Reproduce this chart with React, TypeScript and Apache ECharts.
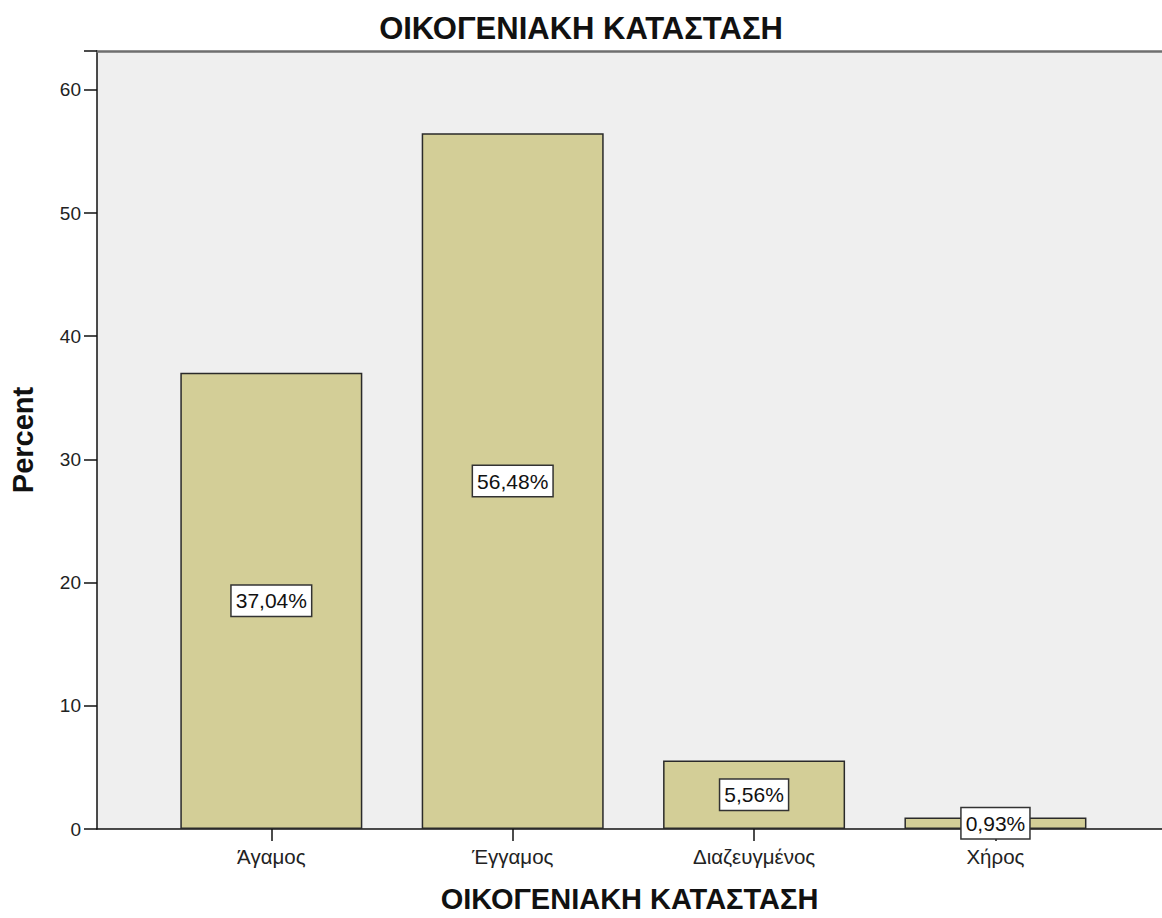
import React, { useEffect, useRef } from "react";
import * as echarts from "echarts";

const titleText = "ΟΙΚΟΓΕΝΙΑΚΗ ΚΑΤΑΣΤΑΣΗ";
const xAxisName = "ΟΙΚΟΓΕΝΙΑΚΗ ΚΑΤΑΣΤΑΣΗ";
const yAxisName = "Percent";
const categories = ["Άγαμος", "Έγγαμος", "Διαζευγμένος", "Χήρος"];
const percents = [37.04, 56.48, 5.56, 0.93];
const yTicks = [0, 10, 20, 30, 40, 50, 60];

const FONT = "'Liberation Sans', Arial, sans-serif";

export default function App() {
  const ref = useRef<HTMLDivElement>(null);
  useEffect(() => {
    if (!ref.current) return;
    const chart = echarts.init(ref.current, null, { renderer: "svg" });
    const idx = categories.map((_, i) => i);
    chart.setOption({
      animation: false,
      textStyle: { fontFamily: FONT },
      title: {
        text: titleText,
        left: "center",
        top: 8,
        textStyle: { fontFamily: FONT, fontSize: 31, fontWeight: "bold", color: "#111" },
      },
      grid: {
        left: 93,
        top: 51,
        right: 0,
        bottom: 86,
        show: true,
        backgroundColor: "#efefef",
        borderWidth: 0,
      },
      xAxis: [
        {
          type: "value",
          min: -0.7222,
          max: 3.69,
          name: xAxisName,
          nameLocation: "middle",
          nameGap: 55,
          nameTextStyle: { fontFamily: FONT, fontSize: 29, fontWeight: "bold", color: "#111" },
          axisLine: { show: true, onZero: false, lineStyle: { color: "#111", width: 1.5 } },
          axisTick: { show: true, length: 12, customValues: idx, lineStyle: { color: "#111", width: 1.5 } },
          axisLabel: {
            customValues: idx,
            margin: 17,
            fontFamily: FONT,
            fontSize: 20.5,
            color: "#222",
            formatter: (v: number) => categories[Math.round(v)] ?? "",
          },
          splitLine: { show: false },
        },
        {
          type: "value",
          position: "top",
          min: -0.7222,
          max: 3.69,
          axisLine: { show: true, onZero: false, lineStyle: { color: "#6f6f6f", width: 2.5 } },
          axisTick: { show: false },
          axisLabel: { show: false },
          splitLine: { show: false },
        },
      ],
      yAxis: {
        type: "value",
        min: 0,
        max: 63.15,
        interval: 10,
        name: yAxisName,
        nameLocation: "middle",
        nameGap: 60,
        nameRotate: 90,
        nameTextStyle: { fontFamily: FONT, fontSize: 29, fontWeight: "bold", color: "#111" },
        axisLine: { show: true, onZero: false, lineStyle: { color: "#111", width: 1.5 } },
        axisTick: { show: true, length: 13, lineStyle: { color: "#111", width: 1.5 } },
        axisLabel: {
          margin: 16,
          fontFamily: FONT,
          fontSize: 19,
          color: "#222",
          formatter: (v: number) => (yTicks.includes(v) ? String(v) : ""),
        },
        splitLine: { show: false },
      },
      series: [
        {
          type: "bar",
          xAxisIndex: 0,
          barWidth: 182,
          data: percents.map((p, i) => [i, p]),
          itemStyle: { color: "#d3ce97", borderColor: "#2a2a2a", borderWidth: 1.5 },
          label: {
            show: true,
            position: "inside",
            formatter: (p: any) => `${Number(p.value[1]).toFixed(2).replace(".", ",")}%`,
            fontFamily: FONT,
            fontSize: 21,
            color: "#111",
            backgroundColor: "#ffffff",
            borderColor: "#333",
            borderWidth: 1.5,
            padding: [5, 4, 4, 4],
          },
        },
      ],
    });
    return () => chart.dispose();
  }, []);
  return (
    <div
      ref={ref}
      style={{ position: "absolute", left: 0, top: 0, width: 1162, height: 918, background: "#fff" }}
    />
  );
}
